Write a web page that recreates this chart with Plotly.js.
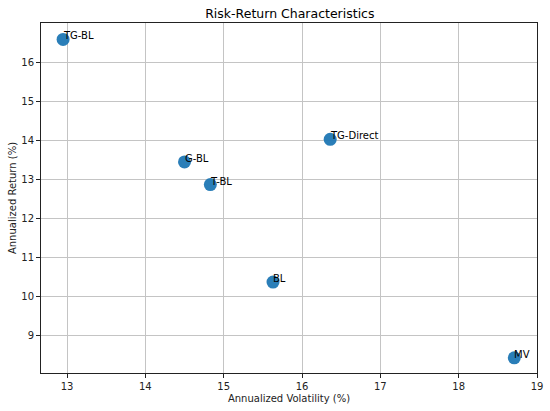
<!DOCTYPE html>
<html>
<head>
<meta charset="utf-8">
<script src="https://cdn.plot.ly/plotly-3.0.1.min.js"></script>
<style>html,body{margin:0;padding:0;background:#fff}#chart{width:550px;height:411px}</style>
</head>
<body>
<div id="chart"></div>
<script>
const strategies = ["TG-BL", "G-BL", "T-BL", "BL", "TG-Direct", "MV"];
const volatility = [12.95, 14.50, 14.83, 15.63, 16.36, 18.71];
const returns = [16.58, 13.44, 12.86, 10.36, 14.02, 8.42];
const xTicks = [13, 14, 15, 16, 17, 18, 19];
const yTicks = [9, 10, 11, 12, 13, 14, 15, 16];

const trace = {
  x: volatility,
  y: returns,
  mode: "markers",
  type: "scatter",
  marker: {size: 13, color: "#1f77b4", opacity: 0.95, line: {width: 0}},
  hoverinfo: "skip"
};

const annotations = strategies.map((s, i) => ({
  x: volatility[i], y: returns[i], xref: "x", yref: "y",
  text: s, showarrow: false, xanchor: "left", yanchor: "bottom",
  xshift: -2, yshift: -4,
  font: {family: "DejaVu Sans", size: 10, color: "#000"}
}));

const axisCommon = {
  showline: true, linecolor: "#222", linewidth: 1, mirror: true,
  showgrid: true, gridcolor: "#c4c4c4", gridwidth: 1,
  zeroline: false, ticks: "outside", ticklen: 4, tickcolor: "#222",
  tickfont: {family: "DejaVu Sans", size: 10, color: "#222"}
};

const layout = {
  width: 550, height: 411,
  margin: {l: 41, r: 13, t: 23, b: 38},
  paper_bgcolor: "#fff", plot_bgcolor: "#fff",
  showlegend: false,
  title: {text: "Risk-Return Characteristics", x: 0.527, xanchor: "center", y: 0.978, yanchor: "top",
          font: {family: "DejaVu Sans", size: 12.5, color: "#000"}},
  xaxis: Object.assign({}, axisCommon, {
    range: [12.668, 19.0], tickvals: xTicks, ticktext: xTicks.map(String),
    title: {text: "Annualized Volatility (%)", standoff: 3, font: {family: "DejaVu Sans", size: 10, color: "#222"}}
  }),
  yaxis: Object.assign({}, axisCommon, {
    range: [8.03, 17.0], tickvals: yTicks, ticktext: yTicks.map(String),
    title: {text: "Annualized Return (%)", standoff: 2, font: {family: "DejaVu Sans", size: 10, color: "#222"}}
  }),
  annotations: annotations
};

Plotly.newPlot("chart", [trace], layout, {displayModeBar: false, staticPlot: true});
</script>
</body>
</html>
